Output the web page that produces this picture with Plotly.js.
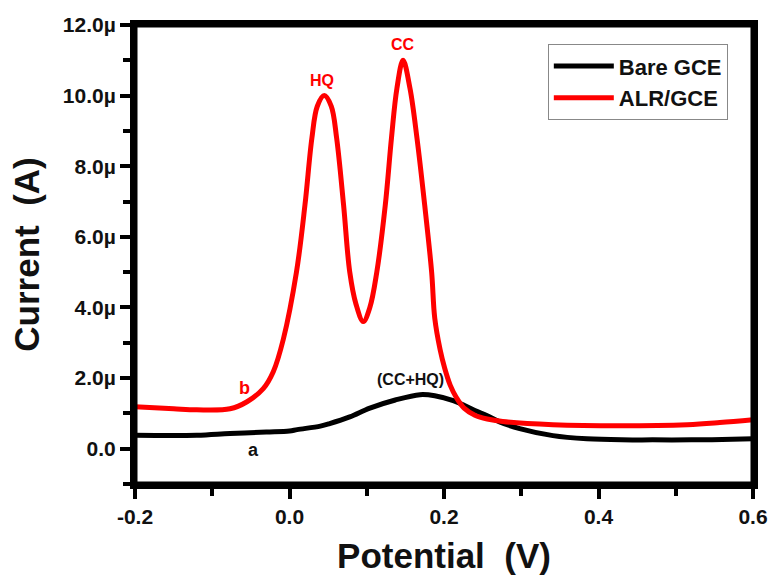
<!DOCTYPE html>
<html>
<head>
<meta charset="utf-8">
<script src="https://cdn.plot.ly/plotly-3.0.1.min.js"></script>
<style>
html,body{margin:0;padding:0;background:#fff;}
#chart{width:773px;height:578px;}
#chart path.ticks{stroke-width:4px !important;}
</style>
</head>
<body>
<div id="chart"></div>
<script>
// Bare GCE (curve a)
const bareX = [-0.2, -0.12, -0.077, -0.03, 0.0, 0.01, 0.04, 0.052, 0.078, 0.104, 0.137, 0.169, 0.188, 0.212, 0.24, 0.256, 0.272, 0.298, 0.341, 0.385, 0.43, 0.47, 0.52, 0.56, 0.6];
const bareY = [0.38, 0.38, 0.43, 0.47, 0.50, 0.54, 0.64, 0.71, 0.90, 1.15, 1.38, 1.53, 1.50, 1.36, 1.08, 0.93, 0.76, 0.57, 0.37, 0.28, 0.25, 0.25, 0.25, 0.26, 0.28];
// ALR/GCE (curve b)
const alrX = [-0.2, -0.15, -0.12, -0.077, -0.055, -0.034, -0.021, -0.008, 0.009, 0.020, 0.029, 0.036, 0.045, 0.054, 0.061, 0.070, 0.078, 0.086, 0.0955, 0.104, 0.113, 0.124, 0.132, 0.139, 0.147, 0.156, 0.165, 0.175, 0.184, 0.188, 0.195, 0.201, 0.208, 0.216, 0.226, 0.240, 0.256, 0.276, 0.341, 0.428, 0.515, 0.557, 0.6];
const alrY = [1.19, 1.13, 1.10, 1.13, 1.33, 1.70, 2.18, 3.10, 5.00, 6.90, 8.80, 9.70, 10.0, 9.70, 8.80, 6.90, 5.00, 4.10, 3.60, 4.00, 5.00, 6.90, 8.80, 10.2, 11.0, 10.2, 8.80, 6.90, 5.00, 3.70, 2.80, 2.27, 1.80, 1.45, 1.15, 0.95, 0.84, 0.77, 0.68, 0.65, 0.68, 0.74, 0.82];
// Axis ticks
const yTickVals = [0, 2, 4, 6, 8, 10, 12];
const yTickText = ["0.0", "2.0\u00b5", "4.0\u00b5", "6.0\u00b5", "8.0\u00b5", "10.0\u00b5", "12.0\u00b5"];
const yMinorVals = [-1, 1, 3, 5, 7, 9, 11];
const xTickVals = [-0.2, 0.0, 0.2, 0.4, 0.6];
const xTickText = ["-0.2", "0.0", "0.2", "0.4", "0.6"];
const xMinorVals = [-0.1, 0.1, 0.3, 0.5];
// Annotations
const labelText = ["HQ", "CC", "b", "a", "(CC+HQ)"];
const labelX = [0.042, 0.147, -0.058, -0.046, 0.156];
const labelY = [10.42, 11.44, 1.73, -0.03, 1.95];
const labelColor = ["#ff0000", "#ff0000", "#ff0000", "#111111", "#111111"];
const labelSize = [16, 16, 18, 18, 16];

const FONT = "Liberation Sans, Arial, sans-serif";

const traces = [
  {x: bareX, y: bareY, mode: "lines", name: "Bare GCE", line: {color: "#000000", width: 5, shape: "spline", smoothing: 1}},
  {x: alrX, y: alrY, mode: "lines", name: "ALR/GCE", line: {color: "#ff0000", width: 5, shape: "spline", smoothing: 1}}
];

const annotations = labelText.map((t, i) => ({
  x: labelX[i], y: labelY[i], text: t, showarrow: false,
  font: {family: FONT, size: labelSize[i], color: labelColor[i], weight: "bold"}
}));

const layout = {
  width: 773, height: 578,
  margin: {l: 135, r: 20, t: 25, b: 94},
  paper_bgcolor: "#ffffff", plot_bgcolor: "#ffffff",
  showlegend: true,
  legend: {
    x: 0.668, y: 0.958, xanchor: "left", yanchor: "top",
    bgcolor: "#ffffff", bordercolor: "#888888", borderwidth: 1,
    font: {family: FONT, size: 22, color: "#111111", weight: "bold"},
    tracegroupgap: 0, itemwidth: 60
  },
  xaxis: {
    range: [-0.2, 0.6], showgrid: false, zeroline: false,
    showline: true, linecolor: "#000000", linewidth: 5, mirror: true,
    ticks: "outside", ticklen: 10, tickwidth: 4, tickcolor: "#000000",
    tickmode: "array", tickvals: xTickVals, ticktext: xTickText,
    minor: {tickmode: "array", tickvals: xMinorVals, ticks: "outside", ticklen: 7, tickwidth: 4, tickcolor: "#000000", showgrid: false},
    tickfont: {family: FONT, size: 21, color: "#111", weight: "bold"},
    title: {text: "Potential\u00a0\u00a0(V)", font: {family: FONT, size: 35, color: "#111", weight: "bold"}, standoff: 18}
  },
  yaxis: {
    range: [-1, 12], showgrid: false, zeroline: false,
    showline: true, linecolor: "#000000", linewidth: 5, mirror: true,
    ticks: "outside", ticklen: 10, tickwidth: 4, tickcolor: "#000000",
    tickmode: "array", tickvals: yTickVals, ticktext: yTickText,
    minor: {tickmode: "array", tickvals: yMinorVals, ticks: "outside", ticklen: 7, tickwidth: 4, tickcolor: "#000000", showgrid: false},
    tickfont: {family: FONT, size: 21, color: "#111", weight: "bold"},
    title: {text: "Current\u00a0\u00a0(A)", font: {family: FONT, size: 35, color: "#111", weight: "bold"}, standoff: 14}
  },
  shapes: [
    {type: "rect", xref: "paper", yref: "paper", x0: 0, x1: 1, y0: 0, y1: 1, line: {color: "#000000", width: 5}, layer: "above"}
  ],
  annotations: annotations
};

Plotly.newPlot("chart", traces, layout, {displayModeBar: false});
</script>
</body>
</html>
